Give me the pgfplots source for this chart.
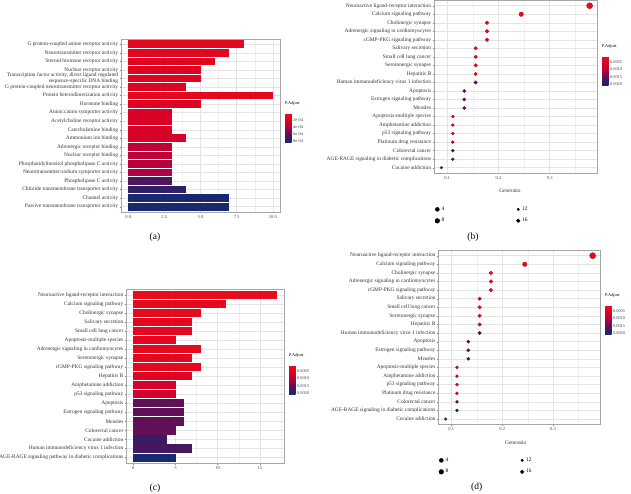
\documentclass[border=0pt]{standalone}
\usepackage{fontspec}
\setmainfont{Liberation Serif}
\usepackage{pgfplots}
\pgfplotsset{compat=1.18}
\usepackage{pgfplotstable}
\usetikzlibrary{calc}

\newcommand\cat{\fontsize{5.4}{6}\selectfont}
\newcommand\tck{\fontsize{4.6}{5}\selectfont}
\newcommand\cbt{\fontsize{4.3}{4.7}\selectfont}

% horizontal bar drawn leftwards from the data point (x = count) to x = 0
\pgfdeclareplotmark{hbarA}{\pgfpathrectangle{\pgfpoint{-\barlen pt}{-3.85pt}}{\pgfpoint{\barlen pt}{7.7pt}}\pgfusepathqfill}
\pgfdeclareplotmark{hbarC}{\pgfpathrectangle{\pgfpoint{-\barlen pt}{-4.06pt}}{\pgfpoint{\barlen pt}{8.12pt}}\pgfusepathqfill}

\pgfplotsset{
  colormap={padj}{rgb255=(232,12,28) rgb255=(224,4,33) rgb255=(208,0,45) rgb255=(173,3,66) rgb255=(108,13,85) rgb255=(60,26,98) rgb255=(26,40,112)},
  panel/.style={
    scale only axis, anchor=north west,
    y dir=reverse, enlargelimits=false,
    axis line style={black!35, line width=0.4pt},
    tick style={black!50, line width=0.3pt},
    major tick length=1.5pt, minor tick length=0pt,
    tick align=outside, xtick pos=bottom, ytick pos=left,
    xmajorgrids, xminorgrids, ymajorgrids,
    major grid style={black!11, line width=0.45pt},
    minor grid style={black!6, line width=0.25pt},
    yticklabel style={font=\cat, text=black!80, align=right, inner sep=1.2pt},
    xticklabel style={font=\tck, text=black!70, inner sep=1.5pt},
    /pgf/number format/assume math mode=true,
    scaled x ticks=false,
    colormap name=padj,
    colorbar,
  },
  cbar/.style={
    width=6.5pt, height=29.5pt, anchor=north west, xshift=-0.3cm,
    y dir=reverse, scaled y ticks=false,
    axis line style={draw=none}, major tick length=0pt,
    yticklabel style={font=\cbt, text=black!75, inner sep=1.5pt},
    /pgf/number format/assume math mode=true,
    title=P.Adjust,
    title style={font=\cbt, anchor=south west, at={(0,1)}, inner sep=1.5pt, xshift=-1.5pt},
  },
  dotleg/.style={
    legend columns=2,
    legend style={draw=none, fill=none, font=\cat, inner sep=0pt, outer sep=0pt,
      anchor=north west, row sep=2.4pt,
      /tikz/every even column/.append style={column sep=70pt}},
    legend cell align=left,
    legend image code/.code={\draw[##1] plot coordinates {(0pt,0pt)};},
  },
}

% (a) GO terms: row, count, p.adjust
\pgfplotstableread{
r n p
1 8 1.0e-4
2 7 1.2e-4
3 6 1.3e-4
4 5 1.4e-4
5 5 1.5e-4
6 4 1.6e-4
7 10 1.0e-4
8 5 1.8e-4
9 3 2.0e-4
10 3 2.0e-4
11 3 2.1e-4
12 4 2.2e-4
13 3 3.4e-4
14 3 3.6e-4
15 3 3.9e-4
16 3 4.2e-4
17 3 6.4e-4
18 4 7.4e-4
19 7 8.3e-4
20 7 8.3e-4
}\tabA

% (b)/(d) KEGG dot plot: row, GeneRatio, count, p.adjust
\pgfplotstableread{
r g n p
1 0.3778 17 0.00012
2 0.2444 11 0.00020
3 0.1778 8 0.00020
4 0.1778 8 0.00022
5 0.1778 8 0.00024
6 0.1556 7 0.00025
7 0.1556 7 0.00026
8 0.1556 7 0.00028
9 0.1556 7 0.00030
10 0.1556 7 0.00180
11 0.1333 6 0.00154
12 0.1333 6 0.00154
13 0.1333 6 0.00154
14 0.1111 5 0.00030
15 0.1111 5 0.00070
16 0.1111 5 0.00070
17 0.1111 5 0.00070
18 0.1111 5 0.00150
19 0.1111 5 0.00210
20 0.0889 4 0.00180
}\tabB

% (c) KEGG bar plot: row, count, p.adjust
\pgfplotstableread{
r n p
1 17 0.00012
2 11 0.00020
3 8 0.00020
4 7 0.00025
5 7 0.00026
6 5 0.00030
7 8 0.00022
8 7 0.00028
9 8 0.00024
10 7 0.00045
11 5 0.00070
12 5 0.00070
13 6 0.00152
14 6 0.00152
15 6 0.00152
16 5 0.00150
17 4 0.00182
18 7 0.00170
19 5 0.00210
}\tabC

\begin{document}
\begin{tikzpicture}
\useasboundingbox (0,0) rectangle (631pt,-494pt);

% ---------------- (a)
\begin{axis}[panel, at={(121pt,-39.2pt)}, width=159pt, height=172.6pt,
  xmin=-0.5, xmax=10.5, ymin=0.4, ymax=20.6,
  xtick={0,2.5,5,7.5,10}, minor xtick={1.25,3.75,6.25,8.75},
  xticklabel style={/pgf/number format/.cd, fixed, fixed zerofill, precision=1},
  ytick={1,...,20},
  yticklabels={{G protein-coupled amine receptor activity},
    {Neurotransmitter receptor activity},
    {Steroid hormone receptor activity},
    {Nuclear receptor activity},
    {Transcription factor activity, direct ligand regulated\\sequence-specific DNA binding},
    {G protein-coupled neurotransmitter receptor activity},
    {Protein heterodimerization activity},
    {Hormone binding},
    {Anion:cation symporter activity},
    {Acetylcholine receptor activity},
    {Catecholamine binding},
    {Ammonium ion binding},
    {Adrenergic receptor binding},
    {Nuclear receptor binding},
    {Phosphatidylinositol phospholipase C activity},
    {Neurotransmitter:sodium symporter activity},
    {Phospholipase C activity},
    {Chloride transmembrane transporter activity},
    {Channel activity},
    {Passive transmembrane transporter activity}},
  point meta min=0.1e-4, point meta max=8.3e-4,
  colorbar style={cbar, at={($(parent axis.north east)+(5pt,-73.8pt)$)},
    ytick={2e-4,4e-4,6e-4,8e-4}, yticklabels={2e-04,4e-04,6e-04,8e-04}},
]
\addplot[scatter, only marks, mark=hbarA, point meta=explicit,
  visualization depends on={\thisrow{n}*14.4545 \as \barlen}]
  table[x=n, y=r, meta=p] \tabA;
\end{axis}

% ---------------- (b)
\begin{axis}[panel, dotleg, at={(434pt,-0.6pt)}, width=163pt, height=172.2pt,
  xmin=0.0744, xmax=0.3922, ymin=0.4, ymax=20.6,
  xtick={0.1,0.2,0.3}, minor xtick={0.15,0.25,0.35},
  xticklabel style={/pgf/number format/.cd, fixed, precision=1},
  ytick={1,...,20},
  yticklabels={{Neuroactive ligand-receptor interaction},
    {Calcium signaling pathway},
    {Cholinergic synapse},
    {Adrenergic signaling in cardiomyocytes},
    {cGMP-PKG signaling pathway},
    {Salivary secretion},
    {Small cell lung cancer},
    {Serotonergic synapse},
    {Hepatitis B},
    {Human immunodeficiency virus 1 infection},
    {Apoptosis},
    {Estrogen signaling pathway},
    {Measles},
    {Apoptosis-multiple species},
    {Amphetamine addiction},
    {p53 signaling pathway},
    {Platinum drug resistance},
    {Colorectal cancer},
    {AGE-RAGE signaling in diabetic complications},
    {Cocaine addiction}},
  xlabel={Generatio},
  xlabel style={font=\cat, text=black!80, at={(axis description cs:0.466,-0.106)}, anchor=center},
  legend style={at={(axis description cs:0.006,-0.186)}},
  point meta min=0.0001, point meta max=0.0021,
  colorbar style={cbar, at={($(parent axis.north east)+(5pt,-55.4pt)$)},
    ytick={0.0005,0.001,0.0015,0.002}, yticklabels={0.0005,0.0010,0.0015,0.0020}},
]
\addplot[scatter, only marks, mark=*, point meta=explicit,
  visualization depends on={\thisrow{n} \as \cnt},
  scatter/@pre marker code/.append style={/tikz/mark size=0.8+0.13*\cnt}]
  table[x=g, y=r, meta=p] \tabB;
\addlegendimage{only marks, mark=*, black, mark size=1.3pt}\addlegendentry{4}
\addlegendimage{only marks, mark=*, black, mark size=2.35pt}\addlegendentry{12}
\addlegendimage{only marks, mark=*, black, mark size=1.85pt}\addlegendentry{8}
\addlegendimage{only marks, mark=*, black, mark size=2.9pt}\addlegendentry{16}
\end{axis}

% ---------------- (c)
\begin{axis}[panel, at={(126.2pt,-289.6pt)}, width=157.6pt, height=173.4pt,
  xmin=-0.85, xmax=17.85, ymin=0.4, ymax=19.6,
  xtick={0,5,10,15}, minor xtick={2.5,7.5,12.5,17.5},
  ytick={1,...,19},
  yticklabels={{Neuroactive ligand-receptor interaction},
    {Calcium signaling pathway},
    {Cholinergic synapse},
    {Salivary secretion},
    {Small cell lung cancer},
    {Apoptosis-multiple species},
    {Adrenergic signaling in cardiomyocytes},
    {Serotonergic synapse},
    {cGMP-PKG signaling pathway},
    {Hepatitis B},
    {Amphetamine addiction},
    {p53 signaling pathway},
    {Apoptosis},
    {Estrogen signaling pathway},
    {Measles},
    {Colorectal cancer},
    {Cocaine addiction},
    {Human immunodeficiency virus 1 infection},
    {AGE-RAGE signaling pathway in diabetic complications}},
  point meta min=0.0001, point meta max=0.0021,
  colorbar style={cbar, at={($(parent axis.north east)+(5.2pt,-75.4pt)$)},
    ytick={0.0005,0.001,0.0015,0.002}, yticklabels={0.0005,0.0010,0.0015,0.0020}},
]
\addplot[scatter, only marks, mark=hbarC, point meta=explicit,
  visualization depends on={\thisrow{n}*8.4278 \as \barlen}]
  table[x=n, y=r, meta=p] \tabC;
\end{axis}

% ---------------- (d)
\begin{axis}[panel, dotleg, at={(438.3pt,-250.5pt)}, width=161.7pt, height=173.7pt,
  xmin=0.0744, xmax=0.3922, ymin=0.4, ymax=20.6,
  xtick={0.1,0.2,0.3}, minor xtick={0.15,0.25,0.35},
  xticklabel style={/pgf/number format/.cd, fixed, precision=1},
  ytick={1,...,20},
  yticklabels={{Neuroactive ligand-receptor interaction},
    {Calcium signaling pathway},
    {Cholinergic synapse},
    {Adrenergic signaling in cardiomyocytes},
    {cGMP-PKG signaling pathway},
    {Salivary secretion},
    {Small cell lung cancer},
    {Serotonergic synapse},
    {Hepatitis B},
    {Human immunodeficiency virus 1 infection},
    {Apoptosis},
    {Estrogen signaling pathway},
    {Measles},
    {Apoptosis-multiple species},
    {Amphetamine addiction},
    {p53 signaling pathway},
    {Platinum drug resistance},
    {Colorectal cancer},
    {AGE-RAGE signaling in diabetic complications},
    {Cocaine addiction}},
  xlabel={Generatio},
  xlabel style={font=\cat, text=black!80, at={(axis description cs:0.479,-0.107)}, anchor=center},
  legend style={at={(axis description cs:0.004,-0.182)}},
  point meta min=0.0001, point meta max=0.0021,
  colorbar style={cbar, at={($(parent axis.north east)+(5pt,-54.5pt)$)},
    ytick={0.0005,0.001,0.0015,0.002}, yticklabels={0.0005,0.0010,0.0015,0.0020}},
]
\addplot[scatter, only marks, mark=*, point meta=explicit,
  visualization depends on={\thisrow{n} \as \cnt},
  scatter/@pre marker code/.append style={/tikz/mark size=0.8+0.13*\cnt}]
  table[x=g, y=r, meta=p] \tabB;
\addlegendimage{only marks, mark=*, black, mark size=1.3pt}\addlegendentry{4}
\addlegendimage{only marks, mark=*, black, mark size=2.35pt}\addlegendentry{12}
\addlegendimage{only marks, mark=*, black, mark size=1.85pt}\addlegendentry{8}
\addlegendimage{only marks, mark=*, black, mark size=2.9pt}\addlegendentry{16}
\end{axis}

% panel captions
\node[font=\fontsize{9.5}{10}\selectfont] at (155pt,-237pt) {(a)};
\node[font=\fontsize{9.5}{10}\selectfont] at (473pt,-237pt) {(b)};
\node[font=\fontsize{9.5}{10}\selectfont] at (155pt,-488pt) {(c)};
\node[font=\fontsize{9.5}{10}\selectfont] at (476.7pt,-487.7pt) {(d)};
\end{tikzpicture}
\end{document}
